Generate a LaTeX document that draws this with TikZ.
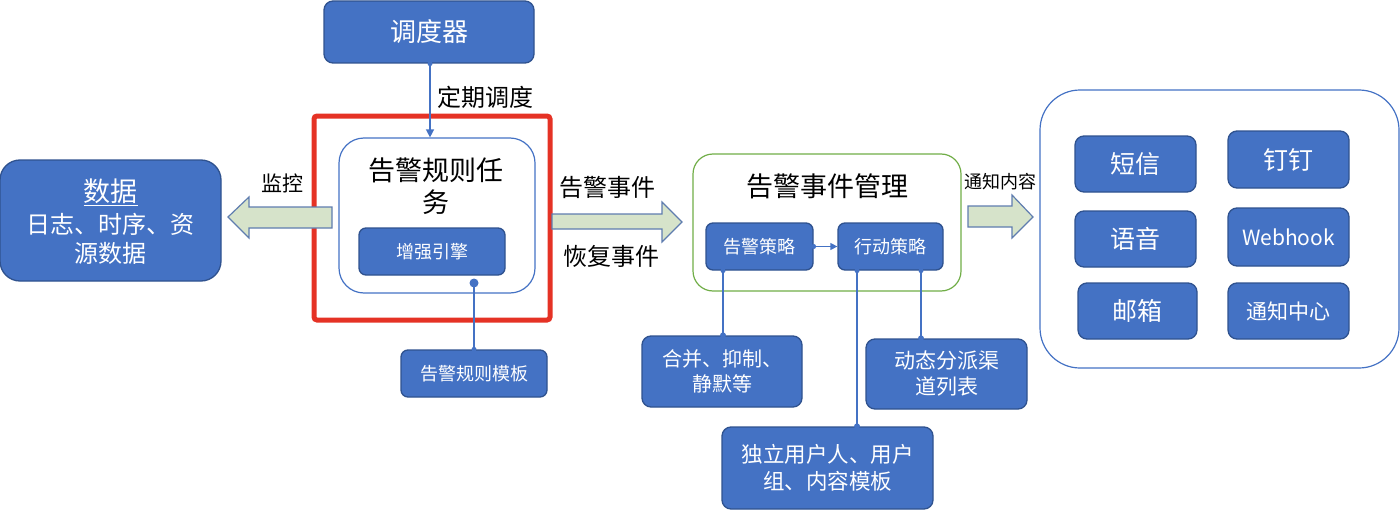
\documentclass[tikz,border=0pt]{standalone}
\usepackage{fontspec}
\setmainfont{Noto Sans CJK SC}
\usetikzlibrary{arrows.meta}
\definecolor{boxc}{RGB}{68,114,196}
\definecolor{bordc}{RGB}{47,82,143}
\definecolor{linec}{RGB}{68,114,196}
\definecolor{greenc}{RGB}{112,173,71}
\definecolor{redc}{RGB}{229,50,37}
\definecolor{arrfill}{RGB}{214,227,202}
\definecolor{arrdraw}{RGB}{95,125,175}
\newcommand{\fs}[2]{\fontsize{#1}{#2}\selectfont}
\tikzset{
  bx/.style={draw=bordc, fill=boxc, rounded corners=9pt, text=white, align=center, inner sep=0pt, line width=1.3pt},
  outline/.style={draw=linec, rounded corners=25pt, line width=1.2pt, inner sep=0pt},
  conn/.style={draw=linec, line width=1.4pt},
  dot/.style={circle, fill=linec, inner sep=0pt, minimum size=#1},
  blockarrow/.style={fill=arrfill, draw=arrdraw, line width=1.2pt, line join=miter},
  lbl/.style={text=black, inner sep=0pt, align=center}
}
\begin{document}
\begin{tikzpicture}[x=1pt,y=-1pt]
\useasboundingbox (0,0) rectangle (1400,511);
% scheduler
\node[bx, minimum width=210pt, minimum height=62pt, font=\fs{26}{30}] (sched) at (429,32) {调度器};
% red highlight
\draw[redc, line width=5pt, rounded corners=3pt] (314,116) rectangle (550,320);
% rule task outline
\node[outline, minimum width=196pt, minimum height=155pt] (task) at (437,215.5) {};
\node[lbl, font=\fs{27}{32}] (tasktitle) at (436,186) {告警规则任\\务};
\node[bx, minimum width=146pt, minimum height=47pt, rounded corners=7pt, font=\fs{18}{22}] (engine) at (432,251.5) {增强引擎};
\node[bx, minimum width=146pt, minimum height=47pt, rounded corners=7pt, font=\fs{18}{22}] (tmpl) at (474,373.5) {告警规则模板};
\coordinate (tdot) at (474,283);
\draw[conn] (tdot) -- (tmpl.north -| tdot);
\node[dot=9pt] at (tdot) {};
\node[dot=5pt] at (tmpl.north -| tdot) {};
% scheduler -> task
\draw[conn, -{Triangle[length=8pt,width=8pt]}] (sched.south -| 430,0) -- (task.north -| 430,0);
\node[dot=5pt] at (sched.south -| 430,0) {};
\node[lbl, font=\fs{24}{28}] (l1) at (485,97) {定期调度};
% data box
\node[bx, minimum width=221pt, minimum height=121pt, rounded corners=20pt] (data) at (110.5,220.5) {};
\node[lbl, text=white, font=\fs{27}{30}] (datat) at (110.5,192) {\underline{数据}};
\node[lbl, text=white, font=\fs{24}{29}] (datal) at (110.5,238.5) {日志、时序、资\\源数据};
% left block arrow
\draw[blockarrow] (228,217) -- (249,197) -- (249,207) -- (332,207) -- (332,228) -- (249,228) -- (249,238) -- cycle;
\node[lbl, font=\fs{21}{24}] (l2) at (282,183) {监控};
% right block arrow 1
\draw[blockarrow] (552,214) -- (662,214) -- (662,202) -- (682,222) -- (662,242) -- (662,229) -- (552,229) -- cycle;
\node[lbl, font=\fs{24}{28}] (l3) at (607,187) {告警事件};
\node[lbl, font=\fs{24}{28}] (l4) at (611,256) {恢复事件};
% event management
\node[draw=greenc, line width=1.2pt, rounded corners=20pt, minimum width=268pt, minimum height=137pt, inner sep=0pt] (mgmt) at (827,222.5) {};
\node[lbl, font=\fs{27}{30}] (mgmtt) at (827,186) {告警事件管理};
\node[bx, minimum width=107pt, minimum height=47pt, rounded corners=7pt, font=\fs{18}{22}] (pol) at (759.5,246.5) {告警策略};
\node[bx, minimum width=105pt, minimum height=47pt, rounded corners=7pt, font=\fs{18}{22}] (act) at (890.5,246.5) {行动策略};
\draw[conn, -{Triangle[length=7pt,width=7pt]}] (pol.east) -- (act.west);
\node[dot=5pt] at (pol.east) {};
\node[bx, minimum width=160pt, minimum height=71pt, rounded corners=9pt, font=\fs{20}{25}] (merge) at (722,371.5) {合并、抑制、\\静默等};
\node[bx, minimum width=161pt, minimum height=70pt, rounded corners=9pt, font=\fs{21}{26}] (disp) at (946.5,374) {动态分派渠\\道列表};
\node[bx, minimum width=211pt, minimum height=82pt, rounded corners=9pt, font=\fs{21.5}{27}] (users) at (827.5,468) {独立用户人、用户\\组、内容模板};
\coordinate (x1) at (723,0);
\coordinate (x2) at (857,0);
\coordinate (x3) at (921,0);
\draw[conn] (pol.south -| x1) -- (merge.north -| x1);
\draw[conn] (act.south -| x2) -- (users.north -| x2);
\draw[conn] (act.south -| x3) -- (disp.north -| x3);
\foreach \a/\b in {pol/x1, merge/x1}{}
\node[dot=5pt] at (pol.south -| x1) {};
\node[dot=6pt] at (merge.north -| x1) {};
\node[dot=5pt] at (act.south -| x2) {};
\node[dot=6pt] at (users.north -| x2) {};
\node[dot=5pt] at (act.south -| x3) {};
\node[dot=6pt] at (disp.north -| x3) {};
% right block arrow 2
\draw[blockarrow] (968,206) -- (1012,206) -- (1012,195) -- (1033,217) -- (1012,238) -- (1012,227) -- (968,227) -- cycle;
\node[lbl, font=\fs{18}{22}] (l5) at (1000,182) {通知内容};
% channels
\node[outline, rounded corners=40pt, minimum width=359pt, minimum height=278pt] (chan) at (1219.5,229) {};
\node[bx, minimum width=121pt, minimum height=56pt, font=\fs{25}{28}] (sms) at (1135.5,164) {短信};
\node[bx, minimum width=121pt, minimum height=57pt, font=\fs{25}{28}] (ding) at (1288.5,159.5) {钉钉};
\node[bx, minimum width=121pt, minimum height=56pt, font=\fs{25}{28}] (voice) at (1135.5,239) {语音};
\node[bx, minimum width=121pt, minimum height=58pt, font=\fs{21}{25}] (hook) at (1288.5,237) {Webhook};
\node[bx, minimum width=119pt, minimum height=56pt, font=\fs{25}{28}] (mail) at (1137.5,311) {邮箱};
\node[bx, minimum width=121pt, minimum height=56pt, font=\fs{21}{25}] (center) at (1288.5,311) {通知中心};
\end{tikzpicture}
\end{document}
